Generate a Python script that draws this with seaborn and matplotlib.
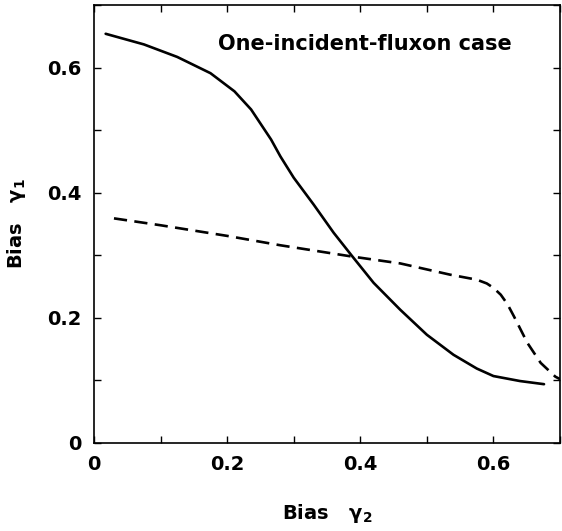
import matplotlib
matplotlib.use("Agg")
import matplotlib.pyplot as plt
import seaborn as sns
import pandas as pd
from matplotlib.ticker import MultipleLocator, FixedLocator

sns.set_style("ticks")
plt.rcParams['font.family'] = ['DejaVu Sans']
plt.rcParams['text.color'] = 'black'
plt.rcParams['axes.labelcolor'] = 'black'
plt.rcParams['xtick.color'] = 'black'
plt.rcParams['ytick.color'] = 'black'
plt.rcParams['axes.edgecolor'] = 'black'

# Solid curve
solid_x = [0.0175, 0.075, 0.125, 0.175, 0.211, 0.236, 0.266, 0.280, 0.300, 0.330, 0.360, 0.3875, 0.420, 0.460, 0.500, 0.540, 0.575, 0.600, 0.640, 0.676]
solid_y = [0.654, 0.637, 0.617, 0.591, 0.562, 0.533, 0.485, 0.458, 0.424, 0.381, 0.336, 0.299, 0.256, 0.213, 0.173, 0.141, 0.119, 0.107, 0.099, 0.094]

# Dashed curve
dash_x = [0.030, 0.10, 0.20, 0.280, 0.3875, 0.460, 0.535, 0.575, 0.590, 0.600, 0.611, 0.621, 0.631, 0.651, 0.671, 0.693, 0.702]
dash_y = [0.359, 0.348, 0.331, 0.316, 0.298, 0.287, 0.269, 0.261, 0.255, 0.248, 0.237, 0.222, 0.202, 0.160, 0.128, 0.106, 0.101]

x_ticklabels = ["0", "0.2", "0.4", "0.6"]
y_ticklabels = ["0", "0.2", "0.4", "0.6"]
annotation = "One-incident-fluxon case"

df_solid = pd.DataFrame({"x": solid_x, "y": solid_y})
df_dash = pd.DataFrame({"x": dash_x, "y": dash_y})

fig = plt.figure(figsize=(5.62, 5.31), dpi=100)
ax = fig.add_axes([94/562, 88/531, 466/562, 438/531])

sns.lineplot(data=df_solid, x="x", y="y", ax=ax, color="black", lw=1.9, sort=False)
sns.lineplot(data=df_dash, x="x", y="y", ax=ax, color="black", lw=1.9, sort=False,
             linestyle=(0, (5.0, 2.8)))

ax.set_xlim(0, 0.7)
ax.set_ylim(0, 0.7)
ax.xaxis.set_major_locator(FixedLocator([0, 0.2, 0.4, 0.6]))
ax.yaxis.set_major_locator(FixedLocator([0, 0.2, 0.4, 0.6]))
ax.set_xticklabels(x_ticklabels)
ax.set_yticklabels(y_ticklabels)
ax.xaxis.set_minor_locator(MultipleLocator(0.1))
ax.yaxis.set_minor_locator(MultipleLocator(0.1))
ax.tick_params(which="both", direction="in", top=True, right=True, width=1.0)
ax.tick_params(which="major", length=5, labelsize=14, pad=9)
ax.tick_params(which="minor", length=5)
for lab in ax.get_xticklabels() + ax.get_yticklabels():
    lab.set_fontweight("bold")
for s in ax.spines.values():
    s.set_linewidth(1.2)
    s.set_visible(True)
    s.set_color("black")

ax.set_xlabel(r"Bias   $\mathbf{\gamma_2}$", fontsize=14, fontweight="bold", labelpad=20)
ax.set_ylabel(r"Bias   $\mathbf{\gamma_1}$", fontsize=14, fontweight="bold", labelpad=14)

ax.text(0.186, 0.637, annotation, fontsize=15, fontweight="bold", ha="left", va="center")

fig.savefig("out.png", dpi=100)
